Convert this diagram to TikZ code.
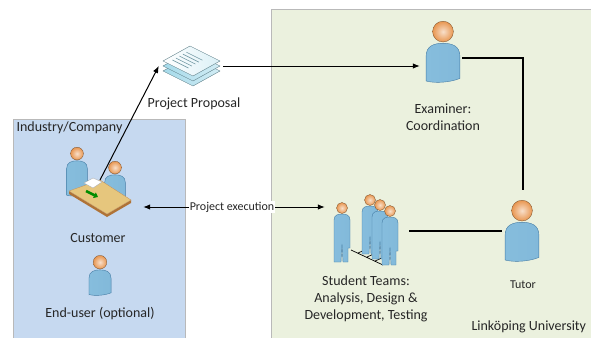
\documentclass[tikz,border=0pt]{standalone}
\usepackage{fontspec}
\setmainfont{Carlito}
\usetikzlibrary{positioning, arrows.meta, shapes}
\definecolor{compblue}{RGB}{198,217,240}
\definecolor{unigreen}{RGB}{235,241,222}
\definecolor{skin}{RGB}{232,150,80}
\definecolor{shirt}{RGB}{150,205,235}
\definecolor{shirtdk}{RGB}{70,125,165}
\definecolor{tabletop}{RGB}{230,198,125}
\definecolor{tableedge}{RGB}{175,115,55}
\definecolor{sheet}{RGB}{165,218,234}
\tikzset{
  area/.style={draw=gray!55, line width=0.8pt},
  lbl/.style={font=\fontsize{14}{17}\selectfont, align=center, text=black!85},
  smalllbl/.style={font=\fontsize{12}{14}\selectfont, align=center, text=black!85},
  icon/.style={minimum width=#1, inner sep=0pt},
  harr/.style={-{Latex[length=7pt,width=5.5pt]}, line width=1pt},
  link/.style={line width=1.1pt},
  headball/.style={draw=skin!50!black, line width=0.3pt,
    inner color=skin!30!white, outer color=skin},
  body/.style={draw=shirtdk, line width=0.4pt,
    left color=shirt!80!shirtdk, middle color=shirt!35!white, right color=shirt!75!shirtdk},
  sheetlow/.style={draw=sheet!60!black, line width=0.4pt,
    left color=sheet, right color=sheet!50!white},
  sheettop/.style={draw=sheet!60!black, line width=0.4pt,
    left color=white, right color=sheet!40!white},
  textline/.style={draw=sheet!70!black, line width=0.6pt},
  % seated / half figure, #1 = length of the body
  pics/person/.style={code={
    \path[body] (-13,#1+2) -- (-13,11) .. controls (-13,3) and (-7,1) .. (0,1)
      .. controls (7,1) and (13,3) .. (13,11) -- (13,#1)
      .. controls (6,#1+3) and (-6,#1+4) .. cycle;
    \path[headball] (0,-8) circle (8);
  }},
  pics/person/.default=28,
  % standing team member
  pics/member/.style={code={
    \path[body] (-8,48) -- (-8,6) .. controls (-8,1) and (-4,0) .. (0,0)
      .. controls (4,0) and (8,1) .. (8,6) -- (8,34) -- (6,34) -- (6,48)
      -- (1,48) -- (0,30) -- (-1,48) -- cycle;
    \path[headball] (0,-6) circle (5.5);
  }},
}

\begin{document}
\begin{tikzpicture}[x=1pt, y=-1pt]
  \useasboundingbox (0,0) rectangle (591,337);

  % the two organisations
  \path[area, fill=compblue] (13,119) rectangle (185,345);
  \path[area, fill=unigreen] (271,9) rectangle (600,345);

  % customer at the table
  \pic[scale=0.8] at (77,160) {person=42};
  \pic[scale=0.8] at (115,174) {person=36};
  \path[fill=tableedge] (69,191) -- (107,214) -- (131,200) -- (131,203)
    -- (107,217) -- (69,194) -- cycle;
  \path[fill=tabletop, draw=tableedge!80, line width=0.3pt]
    (69,191) -- (100,180) -- (131,200) -- (107,214) -- cycle;
  \path[fill=white, draw=gray!70, line width=0.3pt]
    (84,183) -- (93,178) -- (102,182) -- (93,188) -- cycle;
  \draw[green!55!black, line width=2.5pt, -{Triangle[length=4pt,width=6pt]}]
    (86,191) -- (98,197);
  \node[icon=86pt, minimum height=72pt] (cust) at (100,181) {};
  \coordinate (doc) at (100,180);

  % end-user
  \pic[scale=0.85] at (100,269) {person};

  % stack of proposal sheets
  \foreach \dy in {10,5}
    \path[sheetlow] (163,61+\dy) -- (190,46+\dy) -- (220,61+\dy)
      -- (193,76+\dy) -- cycle;
  \path[sheettop] (163,61) -- (190,46) -- (220,61) -- (193,76) -- cycle;
  \foreach \k in {0,...,4}
    \draw[textline] ({172.4+3.5*\k},{60-1.95*\k}) -- ++(16,8);
  \node[icon=64pt, minimum height=36pt] (prop) at (191,66) {};

  % examiner and tutor
  \pic[scale=1.3] at (443,42) {person};
  \node[icon=42pt, minimum height=50pt] (exam) at (441,58) {};
  \pic[scale=1.3] at (522,221) {person};
  \node[icon=42pt, minimum height=82pt] (tutor) at (523,231) {};

  % student team
  \draw[line width=0.7pt] (351,250) -- (383,265)
    (358,253) -- (367,249) (367,257) -- (376,253) (375,261) -- (384,257);
  \pic at (342,214) {member};
  \pic at (370,206) {member};
  \pic at (380,211) {member};
  \pic at (390,217) {member};
  \node[icon=84pt, minimum height=80pt] (team) at (367,231) {};

  % texts
  \node[lbl, anchor=west] (comp) at (13,128) {Industry/Company};
  \node[lbl] (custlbl) at (98,238) {Customer};
  \node[lbl] (endlbl) at (100,314) {End-user (optional)};
  \node[lbl] (proplbl) at (194,104) {Project Proposal};
  \node[lbl] (examlbl) at (443,117) {Examiner:\\Coordination};
  \node[lbl] (teamlbl) at (366,299) {Student Teams:\\Analysis, Design \&\\Development, Testing};
  \node[smalllbl] (tutorlbl) at (523,285) {Tutor};
  \node[lbl, anchor=west] (uni) at (468,327) {Linköping University};

  % connectors
  \draw[harr] (doc) -- (prop.west);
  \draw[harr] (prop.east) -- (prop.east -| exam.west);
  \draw[link] (exam.east) -| (tutor.north);
  \draw[link] (tutor.west) -- (team.east);
  \node[smalllbl, fill=white, inner sep=1pt] (exec) at (232,207) {Project execution};
  \draw[harr] (exec) -- (exec -| cust.east);
  \draw[harr] (exec) -- (exec -| team.west);
\end{tikzpicture}
\end{document}
